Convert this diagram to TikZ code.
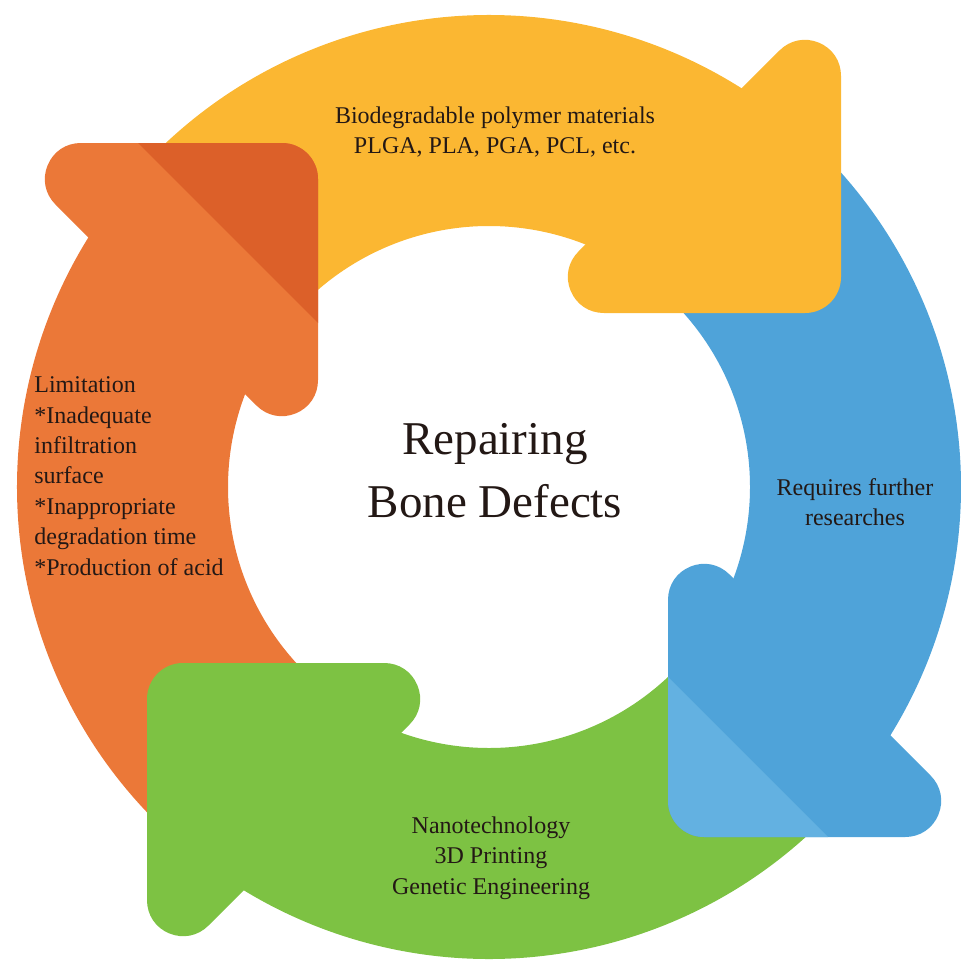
\documentclass[tikz,border=0pt]{standalone}
\usepackage{fontspec}
\setmainfont{Liberation Serif}
\definecolor{ringyellow}{HTML}{FBB732}
\definecolor{ringorange}{HTML}{EB7838}
\definecolor{ringorangedark}{HTML}{DC6029}
\definecolor{ringblue}{HTML}{4FA3D9}
\definecolor{ringbluelight}{HTML}{63B1E1}
\definecolor{ringgreen}{HTML}{7DC243}
\definecolor{inktext}{HTML}{231815}
\begin{document}
\begin{tikzpicture}[x=0.5pt,y=-0.5pt,
  head/.style={fill=#1, draw=#1, line width=36pt, line join=round},
  label/.style={inner sep=0pt, text=inktext, font=\fontsize{12}{15.2}\selectfont},
  title/.style={inner sep=0pt, text=inktext, align=center, font=\fontsize{23.5}{31.5}\selectfont}]
\useasboundingbox (0,0) rectangle (960,963);

% ring bands (annular sectors), drawn before the heads so each head covers the next band's start
\begin{scope}[shift={(489,487)}]
  \fill[ringyellow] (-137:472) arc[start angle=-137, end angle=-45, radius=472]
     -- (-45:261) arc[start angle=-45, end angle=-137, radius=261] -- cycle;
  \fill[ringblue] (-48:472) arc[start angle=-48, end angle=45, radius=472]
     -- (45:261) arc[start angle=45, end angle=-48, radius=261] -- cycle;
  \fill[ringgreen] (42:472) arc[start angle=42, end angle=135, radius=472]
     -- (135:261) arc[start angle=135, end angle=42, radius=261] -- cycle;
  \fill[ringorange] (133:472) arc[start angle=133, end angle=225, radius=472]
     -- (225:261) arc[start angle=225, end angle=133, radius=261] -- cycle;
\end{scope}

% arrow heads: rounded right triangles
\coordinate (yv) at (805,277);   \coordinate (ya) at (805,75.9);  \coordinate (yb) at (603.9,277);
\coordinate (bv) at (704,801);   \coordinate (ba) at (704,599.9); \coordinate (bb) at (905.1,801);
\coordinate (gv) at (183,699);   \coordinate (ga) at (384.1,699); \coordinate (gb) at (183,900.1);
\coordinate (ov) at (282,179);   \coordinate (oa) at (80.9,179);  \coordinate (ob) at (282,380.1);
\path[head=ringyellow] (yv) -- (ya) -- (yb) -- cycle;
\path[head=ringblue]   (bv) -- (ba) -- (bb) -- cycle;
\path[head=ringgreen]  (gv) -- (ga) -- (gb) -- cycle;
\path[head=ringorange] (ov) -- (oa) -- (ob) -- cycle;

% tinted corner triangles on the orange and blue heads
\fill[ringorangedark] (138,143) -- (282,143) arc[start angle=-90, end angle=0, radius=36]
   -- (318,323) -- cycle;
\fill[ringbluelight] (668,677) -- (668,801) arc[start angle=180, end angle=90, radius=36]
   -- (828,837) -- cycle;

% texts
\node[title] (centre) at (495,471) {Repairing\\Bone Defects};
\node[label, align=center] (polymers) at (495,132)
  {Biodegradable polymer materials\\PLGA, PLA, PGA, PCL, etc.};
\node[label, align=center] (research) at (855,502) {Requires further\\researches};
\node[label, align=center] (methods) at (491,858)
  {Nanotechnology\\3D Printing\\Genetic Engineering};
\node[label, align=left, anchor=west] (limits) at (34,476)
  {Limitation\\*Inadequate\\infiltration\\surface\\*Inappropriate\\degradation time\\*Production of acid};
\end{tikzpicture}
\end{document}
